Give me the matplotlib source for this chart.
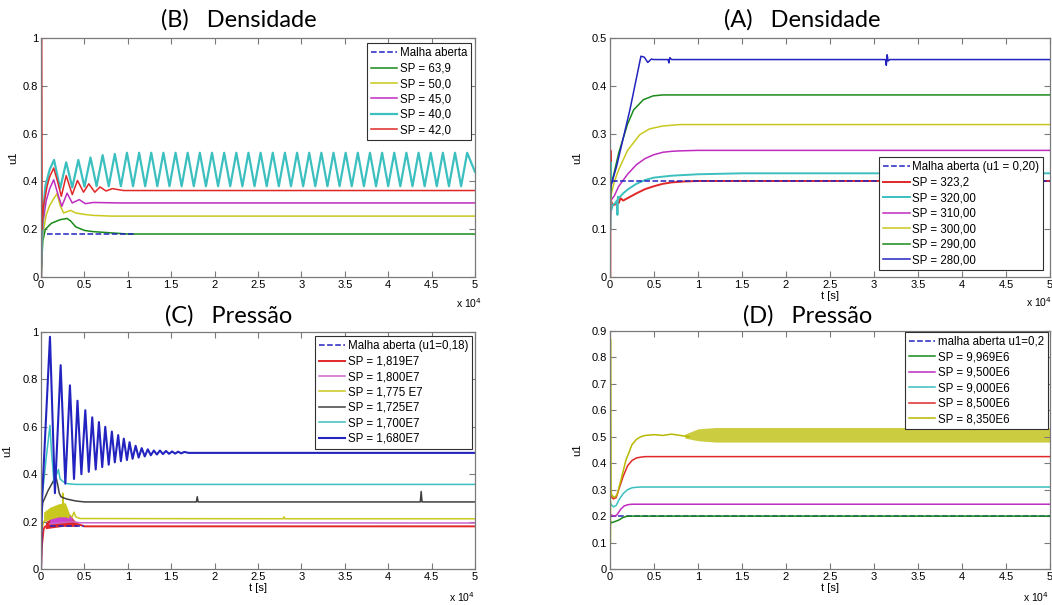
import numpy as np
import matplotlib
matplotlib.use('Agg')
import matplotlib.pyplot as plt
from matplotlib.ticker import FuncFormatter

plt.rcParams['font.family'] = ['Liberation Sans', 'DejaVu Sans']

# tempo em unidades de 1e4 s
# ---------------- (B) Densidade ----------------
b_open_t = [0.07, 1.07]
b_open_u = [0.18, 0.18]
b_green_t = [0, 0.02, 0.05, 0.12, 0.22, 0.3, 0.34, 0.4, 0.5, 0.6, 0.8, 1.0, 5.0]
b_green_u = [0, 0.15, 0.2, 0.225, 0.24, 0.245, 0.235, 0.21, 0.195, 0.19, 0.185, 0.18, 0.18]
b_yellow_t = [0, 0.02, 0.06, 0.1, 0.15, 0.184, 0.22, 0.26, 0.34, 0.4, 0.5, 0.6, 0.8, 5.0]
b_yellow_u = [0, 0.18, 0.26, 0.3, 0.33, 0.349, 0.3, 0.268, 0.279, 0.268, 0.262, 0.258, 0.255, 0.255]
b_magenta_t = [0, 0.02, 0.06, 0.1, 0.146, 0.2, 0.24, 0.3, 0.36, 0.44, 0.51, 0.6, 0.9, 5.0]
b_magenta_u = [0, 0.22, 0.32, 0.37, 0.407, 0.34, 0.296, 0.351, 0.31, 0.324, 0.307, 0.312, 0.31, 0.31]
b_red_t = [0.005, 0.005, 0.01, 0.03, 0.07, 0.1, 0.146, 0.19, 0.234, 0.29, 0.36, 0.42, 0.49, 0.55,
           0.62, 0.68, 0.75, 0.82, 0.95, 1.2, 5.0]
b_red_u = [0, 1.0, 0.2, 0.3, 0.38, 0.42, 0.456, 0.4, 0.338, 0.424, 0.345, 0.404, 0.355, 0.39,
           0.355, 0.377, 0.36, 0.37, 0.362, 0.362, 0.362]
b_cyan_rise_t = [0, 0.02, 0.05, 0.1]
b_cyan_rise_u = [0, 0.25, 0.38, 0.45]
b_cyan_peak_t = [0.15, 0.29, 0.43, 0.57, 0.71, 0.85, 0.99, 1.13, 1.27, 1.41, 1.55, 1.69,
                 1.83, 1.97, 2.11, 2.25, 2.39, 2.53, 2.67, 2.81, 2.95, 3.09, 3.23, 3.37,
                 3.51, 3.65, 3.79, 3.93, 4.07, 4.21, 4.35, 4.49, 4.63, 4.77, 4.91]
b_cyan_peak_u = [0.49, 0.48, 0.49, 0.50, 0.51, 0.515, 0.52, 0.52, 0.52, 0.52, 0.52, 0.52,
                 0.52, 0.52, 0.52, 0.52, 0.52, 0.52, 0.52, 0.52, 0.52, 0.52, 0.52, 0.52,
                 0.52, 0.52, 0.52, 0.52, 0.52, 0.52, 0.52, 0.52, 0.52, 0.52, 0.52]
b_cyan_low_t = [0.22, 0.36, 0.5, 0.64, 0.78, 0.92, 1.06, 1.2, 1.34, 1.48, 1.62, 1.76,
                1.9, 2.04, 2.18, 2.32, 2.46, 2.6, 2.74, 2.88, 3.02, 3.16, 3.3, 3.44,
                3.58, 3.72, 3.86, 4.0, 4.14, 4.28, 4.42, 4.56, 4.7, 4.84, 5.0]
b_cyan_low_u = [0.37, 0.375, 0.378, 0.38, 0.38, 0.38, 0.38, 0.38, 0.38, 0.38, 0.38, 0.38,
                0.38, 0.38, 0.38, 0.38, 0.38, 0.38, 0.38, 0.38, 0.38, 0.38, 0.38, 0.38,
                0.38, 0.38, 0.38, 0.38, 0.38, 0.38, 0.38, 0.38, 0.38, 0.38, 0.44]

# ---------------- (A) Densidade ----------------
a_open_t = [0.02, 5.0]
a_open_u = [0.2, 0.2]
a_red_t = [0.004, 0.006, 0.012, 0.03, 0.06, 0.1, 0.12, 0.15, 0.2, 0.3, 0.4, 0.5, 0.6, 0.7, 0.85, 1.0, 5.0]
a_red_u = [0, 0.265, 0.16, 0.15, 0.152, 0.155, 0.165, 0.16, 0.165, 0.175, 0.184, 0.19, 0.195, 0.198, 0.2, 0.201, 0.201]
a_cyan_t = [0.006, 0.008, 0.014, 0.03, 0.06, 0.08, 0.085, 0.09, 0.1, 0.15, 0.2, 0.3, 0.4, 0.5, 0.7, 1.0, 1.5, 5.0]
a_cyan_u = [0.1, 0.24, 0.14, 0.15, 0.155, 0.16, 0.13, 0.168, 0.165, 0.175, 0.183, 0.195, 0.203, 0.208, 0.212, 0.215, 0.217, 0.217]
a_magenta_t = [0, 0.01, 0.05, 0.1, 0.2, 0.3, 0.4, 0.5, 0.6, 0.7, 0.8, 1.0, 5.0]
a_magenta_u = [0.1, 0.16, 0.17, 0.19, 0.215, 0.235, 0.248, 0.256, 0.261, 0.263, 0.264, 0.265, 0.265]
a_yellow_t = [0, 0.01, 0.05, 0.1, 0.15, 0.2, 0.34, 0.45, 0.6, 0.8, 5.0]
a_yellow_u = [0.12, 0.17, 0.2, 0.225, 0.245, 0.265, 0.298, 0.31, 0.316, 0.319, 0.319]
a_green_t = [0, 0.01, 0.05, 0.1, 0.15, 0.2, 0.27, 0.38, 0.49, 0.6, 5.0]
a_green_u = [0.14, 0.19, 0.22, 0.26, 0.29, 0.32, 0.35, 0.371, 0.379, 0.381, 0.381]
a_blue_t = [0, 0.01, 0.076, 0.227, 0.352, 0.39, 0.43, 0.47, 0.5, 0.66, 0.67, 0.68, 0.7,
            3.13, 3.14, 3.15, 3.16, 3.18, 5.0]
a_blue_u = [0.15, 0.19, 0.232, 0.35, 0.462, 0.46, 0.449, 0.456, 0.455, 0.455, 0.448, 0.459, 0.455,
            0.455, 0.443, 0.465, 0.452, 0.455, 0.455]

# ---------------- (C) Pressao ----------------
c_open_t = [0.1, 0.5]
c_open_u = [0.18, 0.18]
c_red_t = [0, 0.01, 0.03, 0.05, 0.35, 0.42, 0.5, 5.0]
c_red_u = [0, 0.1, 0.17, 0.18, 0.2, 0.19, 0.18, 0.18]
c_red_band_t = [0.05, 0.15, 0.25, 0.35, 0.42]
c_red_band_lo = [0.17, 0.175, 0.18, 0.18, 0.18]
c_red_band_hi = [0.2, 0.22, 0.23, 0.22, 0.19]
c_mag_t = [0.1, 0.36, 0.45, 5.0]
c_mag_u = [0.19, 0.2, 0.195, 0.194]
c_mag_band_t = [0.1, 0.2, 0.3, 0.36]
c_mag_band_lo = [0.19, 0.195, 0.2, 0.195]
c_mag_band_hi = [0.22, 0.245, 0.25, 0.21]
c_yel_t = [0, 0.03, 0.25, 0.25, 0.26, 0.32, 0.36, 0.38, 0.4, 0.45, 2.79, 2.8, 2.81, 5.0]
c_yel_u = [0.15, 0.2, 0.26, 0.32, 0.25, 0.23, 0.22, 0.24, 0.22, 0.213, 0.212, 0.22, 0.212, 0.212]
c_yel_band_t = [0.03, 0.1, 0.2, 0.28, 0.32]
c_yel_band_lo = [0.2, 0.21, 0.22, 0.22, 0.215]
c_yel_band_hi = [0.24, 0.26, 0.275, 0.28, 0.24]
c_blk_t = [0, 0.02, 0.08, 0.14, 0.17, 0.19, 0.21, 0.23, 0.26, 0.3, 0.4, 0.5,
           1.79, 1.8, 1.81, 4.37, 4.38, 4.39, 5.0]
c_blk_u = [0.2, 0.28, 0.33, 0.37, 0.39, 0.36, 0.32, 0.305, 0.3, 0.295, 0.287, 0.283,
           0.283, 0.305, 0.283, 0.283, 0.327, 0.283, 0.283]
c_cyan_t = [0, 0.02, 0.06, 0.103, 0.12, 0.15, 0.17, 0.2, 0.22, 0.25, 0.3, 0.4, 5.0]
c_cyan_u = [0.25, 0.33, 0.47, 0.606, 0.5, 0.36, 0.39, 0.42, 0.38, 0.37, 0.36, 0.357, 0.357]
c_blue_peak_t = [0.103, 0.226, 0.333, 0.42, 0.51, 0.59, 0.667, 0.74, 0.816, 0.889, 0.954,
                 1.02, 1.09, 1.16, 1.23, 1.3, 1.37, 1.44, 1.51, 1.58, 1.65]
c_blue_peak_u = [0.98, 0.86, 0.775, 0.71, 0.67, 0.64, 0.62, 0.6, 0.58, 0.565, 0.55,
                 0.535, 0.52, 0.51, 0.505, 0.5, 0.5, 0.498, 0.496, 0.495, 0.494]
c_blue_low_t = [0.16, 0.28, 0.38, 0.465, 0.55, 0.63, 0.705, 0.78, 0.85, 0.92, 0.99,
                1.055, 1.125, 1.195, 1.265, 1.335, 1.405, 1.475, 1.545, 1.615, 1.7]
c_blue_low_u = [0.32, 0.36, 0.38, 0.4, 0.41, 0.42, 0.43, 0.44, 0.45, 0.455, 0.46,
                0.465, 0.47, 0.475, 0.48, 0.483, 0.485, 0.486, 0.487, 0.488, 0.49]
c_blue_start_t = [0, 0.01]
c_blue_start_u = [0.0, 0.28]
c_blue_end_t = [2.0, 5.0]
c_blue_end_u = [0.49, 0.49]

# ---------------- (D) Pressao ----------------
d_open_t = [0, 5.0]
d_open_u = [0.2, 0.2]
d_green_t = [0, 0.005, 0.02, 0.06, 0.1, 0.15, 0.2, 0.3, 5.0]
d_green_u = [0.1, 0.18, 0.175, 0.18, 0.185, 0.195, 0.2, 0.2, 0.2]
d_mag_t = [0, 0.01, 0.05, 0.08, 0.12, 0.16, 0.2, 0.25, 0.3, 5.0]
d_mag_u = [0.2, 0.205, 0.2, 0.205, 0.225, 0.238, 0.243, 0.245, 0.245, 0.245]
d_cyan_t = [0, 0.01, 0.04, 0.07, 0.1, 0.15, 0.2, 0.25, 0.3, 0.35, 5.0]
d_cyan_u = [0.26, 0.245, 0.235, 0.24, 0.26, 0.285, 0.3, 0.307, 0.309, 0.31, 0.31]
d_red_t = [0, 0.01, 0.04, 0.07, 0.1, 0.15, 0.2, 0.25, 0.3, 0.35, 0.4, 5.0]
d_red_u = [0.29, 0.275, 0.265, 0.27, 0.3, 0.35, 0.39, 0.41, 0.42, 0.423, 0.425, 0.425]
d_yel_t = [0.006, 0.006, 0.01, 0.02, 0.05, 0.08, 0.12, 0.18, 0.25, 0.3, 0.35, 0.4, 0.5, 0.6, 0.7, 0.8, 0.9]
d_yel_u = [0.1, 0.87, 0.3, 0.28, 0.27, 0.28, 0.33, 0.41, 0.47, 0.49, 0.5, 0.505, 0.508, 0.505, 0.51, 0.505, 0.5]
d_yel_band_t = [0.85, 1.0, 1.2, 1.5, 2.0, 2.5, 3.0, 3.5, 4.0, 4.5, 5.0]
d_yel_band_lo = [0.495, 0.485, 0.48, 0.48, 0.48, 0.48, 0.48, 0.48, 0.48, 0.48, 0.48]
d_yel_band_hi = [0.51, 0.53, 0.535, 0.535, 0.535, 0.535, 0.535, 0.535, 0.535, 0.535, 0.535]

x_ticks = [0, 0.5, 1, 1.5, 2, 2.5, 3, 3.5, 4, 4.5, 5]

BLUE = '#2323c0'
GREEN = '#1a8a1a'
YELLOW = '#c8c81e'
MAGENTA = '#bf2cbf'
CYAN = '#3cbfbf'
RED = '#e02828'
BLACK = '#404040'
EDGE = '#7a7a7a'


def merge(t1, u1, t2, u2):
    # junta picos e vales numa unica curva ordenada no tempo
    t = np.array(t1 + t2)
    u = np.array(u1 + u2)
    idx = np.argsort(t, kind='stable')
    return t[idx], u[idx]


def style(ax, ymax, ystep):
    ax.set_xlim(0, 5)
    ax.set_ylim(0, ymax)
    ax.set_xticks(x_ticks)
    ax.set_yticks(np.round(np.arange(0, ymax + 1e-9, ystep), 2))
    fmt = FuncFormatter(lambda v, p: '%g' % v)
    ax.xaxis.set_major_formatter(fmt)
    ax.yaxis.set_major_formatter(fmt)
    ax.tick_params(direction='in', length=4, width=0.8, color=EDGE, labelsize=8,
                   top=True, right=True, pad=2)
    for s in ax.spines.values():
        s.set_color(EDGE)
        s.set_linewidth(0.9)
    ax.set_ylabel('u1', fontsize=8)


def legend(ax, loc, anchor):
    lg = ax.legend(loc=loc, bbox_to_anchor=anchor, borderaxespad=0, fontsize=8.3,
                   handlelength=2.3, handletextpad=0.2, labelspacing=0.3,
                   borderpad=0.35, fancybox=False, framealpha=1, edgecolor='#303030')
    lg.get_frame().set_linewidth(0.8)
    return lg


fig = plt.figure(figsize=(10.52, 6.05), dpi=100)
lw = 1.1

# (B)
axB = fig.add_axes([0.039, 0.5421, 0.4125, 0.395])
axB.plot(b_open_t, b_open_u, '--', color=BLUE, lw=lw, label='Malha aberta', zorder=5)
axB.plot(b_green_t, b_green_u, color=GREEN, lw=lw, label='SP = 63,9')
axB.plot(b_yellow_t, b_yellow_u, color=YELLOW, lw=lw, label='SP = 50,0')
axB.plot(b_magenta_t, b_magenta_u, color=MAGENTA, lw=lw, label='SP = 45,0')
ct, cu = merge(b_cyan_rise_t + b_cyan_peak_t, b_cyan_rise_u + b_cyan_peak_u, b_cyan_low_t, b_cyan_low_u)
axB.plot(ct, cu, color=CYAN, lw=1.6, label='SP = 40,0')
axB.plot(b_red_t, b_red_u, color=RED, lw=lw, label='SP = 42,0')
style(axB, 1.0, 0.2)
axB.yaxis.set_label_coords(-0.053, 0.5)
legend(axB, 'upper right', (0.991, 0.979))
axB.text(1.016, -0.11, r'x 10$^4$', transform=axB.transAxes, ha='right', va='center', fontsize=7.5)

# (A)
axA = fig.add_axes([0.5798, 0.5421, 0.4183, 0.395])
axA.plot(a_open_t, a_open_u, '--', color=BLUE, lw=lw, label='Malha aberta (u1 = 0,20)', zorder=5)
axA.plot(a_red_t, a_red_u, color=RED, lw=1.4, label='SP = 323,2')
axA.plot(a_cyan_t, a_cyan_u, color=CYAN, lw=1.4, label='SP = 320,00')
axA.plot(a_magenta_t, a_magenta_u, color=MAGENTA, lw=lw, label='SP = 310,00')
axA.plot(a_yellow_t, a_yellow_u, color=YELLOW, lw=lw, label='SP = 300,00')
axA.plot(a_green_t, a_green_u, color=GREEN, lw=lw, label='SP = 290,00')
axA.plot(a_blue_t, a_blue_u, color=BLUE, lw=lw, label='SP = 280,00')
style(axA, 0.5, 0.1)
axA.yaxis.set_label_coords(-0.064, 0.5)
legend(axA, 'lower right', (0.984, 0.029))
axA.set_xlabel('t [s]', fontsize=8, labelpad=1)
axA.text(1.005, -0.105, r'x 10$^4$', transform=axA.transAxes, ha='right', va='center', fontsize=7.5)

# (C)
axC = fig.add_axes([0.039, 0.0595, 0.4125, 0.3917])
axC.plot(c_open_t, c_open_u, '--', color=BLUE, lw=lw, label='Malha aberta (u1=0,18)', zorder=5)
axC.fill_between(c_red_band_t, c_red_band_lo, c_red_band_hi, color=RED, lw=0)
axC.plot(c_red_t, c_red_u, color=RED, lw=1.4, label='SP = 1,819E7')
axC.fill_between(c_mag_band_t, c_mag_band_lo, c_mag_band_hi, color='#cc44cc', lw=0)
axC.plot(c_mag_t, c_mag_u, color='#cc66cc', lw=lw, label='SP = 1,800E7')
axC.fill_between(c_yel_band_t, c_yel_band_lo, c_yel_band_hi, color=YELLOW, lw=0)
axC.plot(c_yel_t, c_yel_u, color=YELLOW, lw=lw, label='SP = 1,775 E7')
axC.plot(c_blk_t, c_blk_u, color=BLACK, lw=lw, label='SP = 1,725E7')
axC.plot(c_cyan_t, c_cyan_u, color=CYAN, lw=lw, label='SP = 1,700E7')
bt, bu = merge(c_blue_start_t + c_blue_peak_t + c_blue_end_t,
               c_blue_start_u + c_blue_peak_u + c_blue_end_u, c_blue_low_t, c_blue_low_u)
axC.plot(bt, bu, color=BLUE, lw=1.5, label='SP = 1,680E7')
style(axC, 1.0, 0.2)
axC.yaxis.set_label_coords(-0.067, 0.5)
legend(axC, 'upper right', (0.993, 0.983))
axC.set_xlabel('t [s]', fontsize=8, labelpad=1)
axC.text(1.0, -0.118, r'x 10$^4$', transform=axC.transAxes, ha='right', va='center', fontsize=7.5)

# (D)
axD = fig.add_axes([0.5798, 0.0595, 0.4183, 0.3934])
axD.plot(d_open_t, d_open_u, '--', color=BLUE, lw=lw, label='malha aberta u1=0,2')
axD.plot(d_green_t, d_green_u, color=GREEN, lw=lw, label='SP = 9,969E6')
axD.plot(d_mag_t, d_mag_u, color=MAGENTA, lw=lw, label='SP = 9,500E6')
axD.plot(d_cyan_t, d_cyan_u, color=CYAN, lw=lw, label='SP = 9,000E6')
axD.plot(d_red_t, d_red_u, color=RED, lw=lw, label='SP = 8,500E6')
axD.fill_between(d_yel_band_t, d_yel_band_lo, d_yel_band_hi, color='#c4c420', alpha=0.85, lw=0)
axD.plot(d_yel_t, d_yel_u, color='#b8b800', lw=lw, label='SP = 8,350E6')
style(axD, 0.9, 0.1)
axD.yaxis.set_label_coords(-0.064, 0.5)
legend(axD, 'upper right', (0.995, 0.996))
axD.set_xlabel('t [s]', fontsize=8, labelpad=1)
axD.text(0.998, -0.118, r'x 10$^4$', transform=axD.transAxes, ha='right', va='center', fontsize=7.5)

# titulos
tkw = dict(ha='center', va='center', fontsize=17, family=['Lato', 'DejaVu Sans'])
fig.text(239 / 1052, 1 - 20 / 605, '(B)   Densidade', **tkw)
fig.text(802 / 1052, 1 - 20 / 605, '(A)   Densidade', **tkw)
fig.text(229 / 1052, 1 - 316 / 605, '(C)   Pressão', **tkw)
fig.text(808 / 1052, 1 - 316 / 605, '(D)   Pressão', **tkw)

fig.savefig('out.png', dpi=100)
